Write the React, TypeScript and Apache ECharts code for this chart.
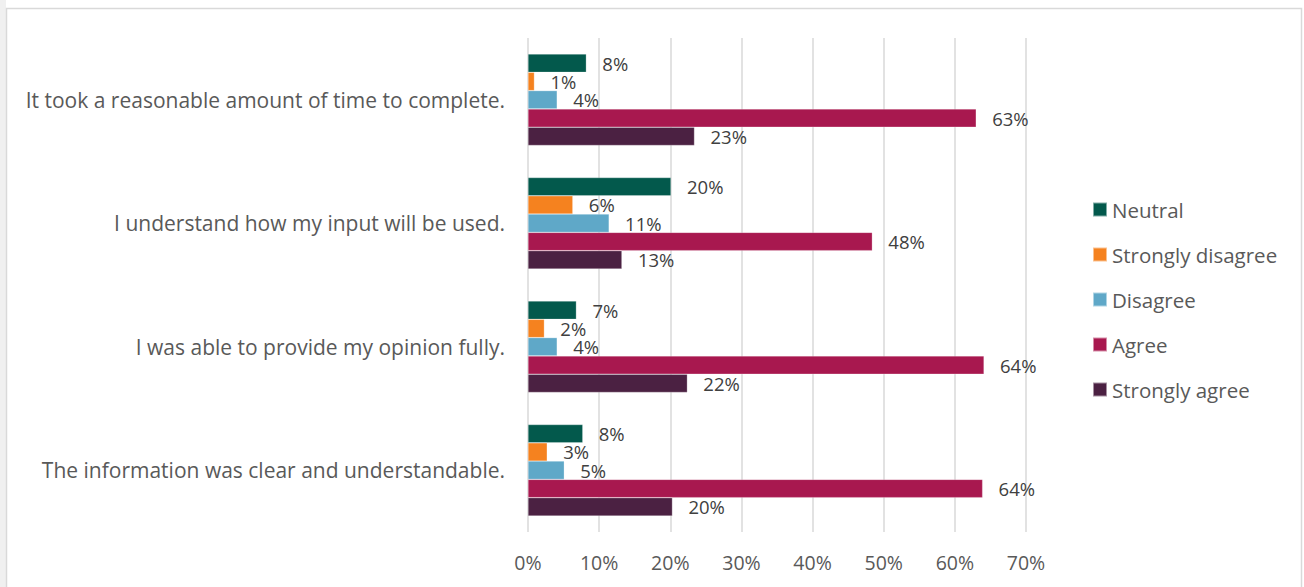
import React, { useEffect, useRef } from "react";
import * as echarts from "echarts";

const categories = [
  "The information was clear and understandable.",
  "I was able to provide my opinion fully.",
  "I understand how my input will be used.",
  "It took a reasonable amount of time to complete.",
];
const seriesNames = ["Neutral", "Strongly disagree", "Disagree", "Agree", "Strongly agree"];
const neutral = [7.7, 6.8, 20.1, 8.2];
const stronglyDisagree = [2.7, 2.3, 6.3, 0.9];
const disagree = [5.1, 4.1, 11.4, 4.1];
const agree = [63.9, 64.1, 48.4, 63.0];
const stronglyAgree = [20.3, 22.4, 13.2, 23.4];
const colors = ["#03594C", "#F5821F", "#5FA8C8", "#A8184F", "#4B2142"];
const xTicks = [0, 10, 20, 30, 40, 50, 60, 70];

export default function App() {
  const ref = useRef<HTMLDivElement>(null);
  useEffect(() => {
    const chart = echarts.init(ref.current!, null, { renderer: "svg" });
    const values = [neutral, stronglyDisagree, disagree, agree, stronglyAgree];
    const font = "Open Sans";
    chart.setOption({
      animation: false,
      textStyle: { fontFamily: font },
      graphic: [
        { type: "rect", shape: { x: 0, y: 0, width: 6, height: 587 }, style: { fill: "#f0f0f0" }, silent: true },
        {
          type: "rect",
          shape: { x: 6.5, y: 8.5, width: 1295, height: 600 },
          style: { fill: "none", stroke: "#d9d9d9", lineWidth: 1.5 },
          silent: true,
        },
      ],
      grid: { left: 528, right: 1304 - 1026, top: 38, bottom: 587 - 532, containLabel: false },
      legend: {
        orient: "vertical",
        left: 1087,
        top: 194,
        itemWidth: 14,
        itemHeight: 14,
        itemGap: 24,
        icon: "rect",
        data: seriesNames,
        textStyle: { fontSize: 20.5, color: "#595959", fontFamily: font },
      },
      xAxis: {
        type: "value",
        min: 0,
        max: 70,
        interval: 10,
        axisLine: { show: false },
        axisTick: { show: false },
        splitLine: { show: true, lineStyle: { color: "#d9d9d9", width: 1.5 } },
        axisLabel: {
          formatter: (v: number) => (xTicks.includes(v) ? v + "%" : ""),
          fontSize: 19.5,
          color: "#595959",
          margin: 20,
        },
      },
      yAxis: {
        type: "category",
        data: categories,
        axisLine: { show: false },
        axisTick: { show: false },
        axisLabel: { fontSize: 21, color: "#595959", margin: 23 },
      },
      series: seriesNames.map((name, i) => ({
        name,
        type: "bar",
        data: values[i],
        barGap: "0%",
        barCategoryGap: "26%",
        itemStyle: { color: colors[i], borderColor: "rgba(255,255,255,0.5)", borderWidth: 0.5 },
        label: {
          show: true,
          position: "right",
          distance: 16,
          formatter: (p: any) => Math.round(p.value) + "%",
          fontSize: 18.5,
          lineHeight: 17,
          color: "#404040",
          fontFamily: font,
        },
      })),
    });
    return () => chart.dispose();
  }, []);
  return (
    <div
      ref={ref}
      style={{ position: "fixed", left: 0, top: 0, width: 1304, height: 587, background: "#fff" }}
    />
  );
}
